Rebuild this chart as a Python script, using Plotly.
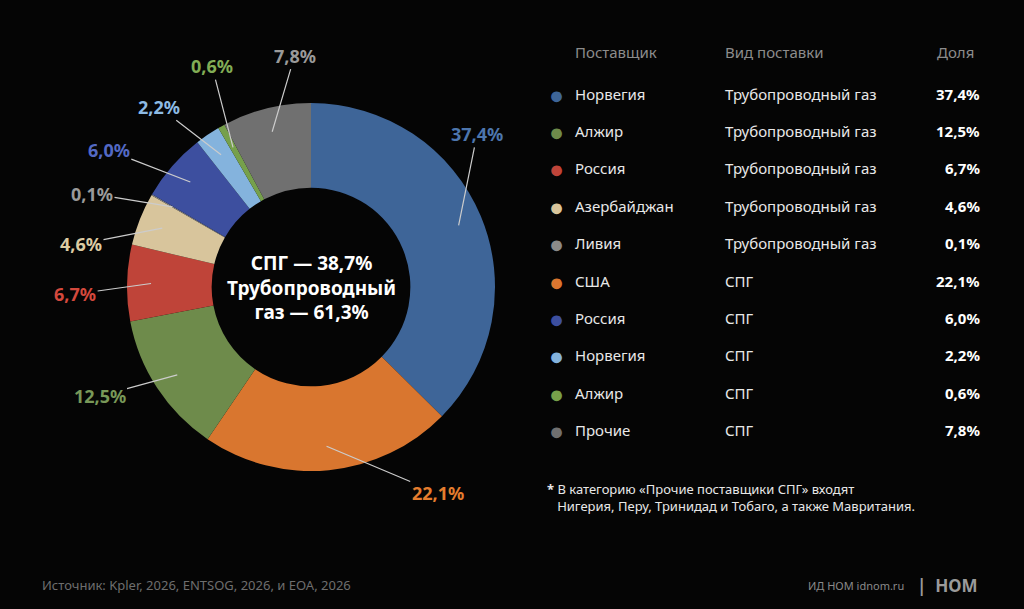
import math
import plotly.graph_objects as go

# данные
suppliers = ["Норвегия", "США", "Алжир", "Россия", "Азербайджан", "Ливия",
             "Россия", "Норвегия", "Алжир", "Прочие"]
types = ["Трубопроводный газ", "СПГ", "Трубопроводный газ", "Трубопроводный газ",
         "Трубопроводный газ", "Трубопроводный газ", "СПГ", "СПГ", "СПГ", "СПГ"]
shares = [37.4, 22.1, 12.5, 6.7, 4.6, 0.1, 6.0, 2.2, 0.6, 7.8]
colors = ["#3e6598", "#d9762f", "#6e8b4b", "#bf4439", "#d8c59c", "#8a8a8a",
          "#3d4f9f", "#84b3dd", "#76a04b", "#707070"]
label_colors = ["#4d76ad", "#e57d2e", "#789858", "#d4493d", "#dccba3", "#9a9a9a",
                "#5369c4", "#8dbbe4", "#82ad55", "#9a9a9a"]
# сдвиг подписей по углу (градусы) и радиус конца выноски
label_shift = [20, 26, -6, 3, 11, 7, 7, 6, -5, -10]
label_radius = [226, 242, 238, 236, 234, 238, 244, 236, 242, 232]

# таблица справа в порядке отображения
table_order = [0, 2, 3, 4, 5, 1, 6, 7, 8, 9]

W, H = 1024, 609
cx, cy, R = 311, 287, 184
FONT = "Noto Sans"

fig = go.Figure(go.Pie(
    values=shares, labels=[f"{s} ({t})" for s, t in zip(suppliers, types)],
    marker=dict(colors=colors, line=dict(width=0)),
    hole=0.54, sort=False, direction="clockwise", rotation=0,
    textinfo="none", hoverinfo="skip", showlegend=False,
    domain=dict(x=[(cx - R) / W, (cx + R) / W], y=[1 - (cy + R) / H, 1 - (cy - R) / H]),
))

def fmt(v):
    return f"{v:.1f}%".replace(".", ",")

def txt(x, y, text, size, color, xanchor="center", **kw):
    return dict(x=x / W, y=1 - y / H, xref="paper", yref="paper", showarrow=False,
                xanchor=xanchor, yanchor="middle", text=text,
                font=dict(family=FONT, size=size, color=color), **kw)

ann = []
cum = 0
for v, c, sh, r1 in zip(shares, label_colors, label_shift, label_radius):
    mid = math.radians(90 - 360 * (cum + v / 2) / 100)
    cum += v
    r0 = 160
    x0, y0 = cx + r0 * math.cos(mid), cy - r0 * math.sin(mid)
    lab = mid + math.radians(sh)
    x1, y1 = cx + r1 * math.cos(lab), cy - r1 * math.sin(lab)
    ann.append(dict(x=x0 / W, y=1 - y0 / H, xref="paper", yref="paper",
                    ax=x1 - x0, ay=y1 - y0, showarrow=True, arrowhead=0,
                    arrowwidth=1.2, arrowcolor="#cccccc",
                    text=f"<b>{fmt(v)}</b>", font=dict(family=FONT, size=18, color=c)))

ann.append(txt(cx, cy, "<b>СПГ — 38,7%<br>Трубопроводный<br>газ — 61,3%</b>", 19, "white"))

# заголовки таблицы
hdr = "#8c8c8c"
ann.append(txt(573, 52, "Поставщик", 15, hdr, "left"))
ann.append(txt(723, 52, "Вид поставки", 15, hdr, "left"))
ann.append(txt(976, 52, "Доля", 15, hdr, "right"))

row_y = [94, 131, 168, 206, 243, 281, 318, 355, 393, 430]
for ry, i in zip(row_y, table_order):
    ann.append(txt(556, ry, "●", 25, colors[i]))
    ann.append(txt(573, ry, suppliers[i], 15, "#e8e8e8", "left"))
    ann.append(txt(723, ry, types[i], 15, "#e8e8e8", "left"))
    ann.append(txt(982, ry, f"<b>{fmt(shares[i])}</b>", 15, "white", "right"))

ann.append(txt(545, 497, "<b>*</b> В категорию «Прочие поставщики СПГ» входят<br>"
               "   Нигерия, Перу, Тринидад и Тобаго, а также Мавритания.",
               13, "#e8e8e8", "left", align="left"))
ann.append(txt(40, 585, "Источник: Kpler, 2026, ENTSOG, 2026, и EOA, 2026", 13, "#6e6e6e", "left"))
ann.append(txt(906, 585, "ИД НОМ idnom.ru", 11, "#8a8a8a", "right"))
ann.append(txt(980, 585, "<b>|  НОМ</b>", 17, "#9a9a9a", "right"))

fig.update_layout(
    width=W, height=H, margin=dict(l=0, r=0, t=0, b=0),
    paper_bgcolor="#050505", plot_bgcolor="#050505",
    annotations=ann,
)
fig.write_html("out.html", config={"displayModeBar": False},
               post_script="document.body.style.margin='0';document.body.style.background='#050505';")
